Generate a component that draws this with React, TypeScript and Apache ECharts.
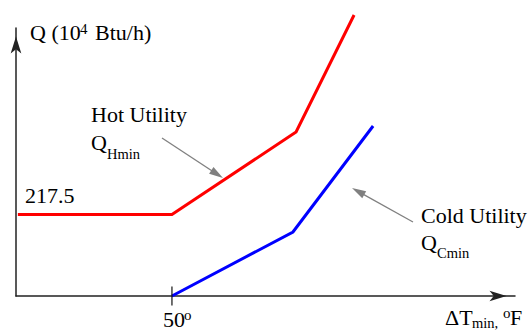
import React, { useEffect, useRef } from "react";
import * as echarts from "echarts";

// Data (x: ΔTmin in °F units, y: Q in 10^4 Btu/h units)
const hotUtility: [number, number][] = [
  [0.6, 217.5],
  [50, 217.5],
  [89.8, 437.6],
  [108.4, 749.7],
];
const coldUtility: [number, number][] = [
  [50, 0],
  [88.8, 170.8],
  [114.5, 453.6],
];
const tickMarks: [number, number][] = [[50, 0]];
const xMax = 160;
const yMax = 715;
const hotValueLabel = "217.5";
const tickLabel = "50";

const FONT = "Times New Roman, Liberation Serif, serif";

function txt(x: number, y: number, text: string, size: number) {
  return {
    type: "text",
    x,
    y,
    silent: true,
    style: {
      text,
      fontSize: size,
      fontFamily: FONT,
      fontStyle: "normal",
      fontWeight: "normal",
      fill: "#000",
      align: "left",
      verticalAlign: "middle",
    },
  };
}

function arrow(x1: number, y1: number, x2: number, y2: number) {
  const len = 14;
  const half = 4;
  const color = "#808080";
  const dx = x2 - x1;
  const dy = y2 - y1;
  const L = Math.hypot(dx, dy);
  const ux = dx / L;
  const uy = dy / L;
  const bx = x2 - len * ux;
  const by = y2 - len * uy;
  const nx = -uy;
  const ny = ux;
  return [
    {
      type: "line",
      silent: true,
      shape: { x1, y1, x2: bx + 2 * ux, y2: by + 2 * uy },
      style: { stroke: color, lineWidth: 1.3 },
    },
    {
      type: "polygon",
      silent: true,
      shape: {
        points: [
          [x2, y2],
          [bx + half * nx, by + half * ny],
          [bx - half * nx, by - half * ny],
        ],
      },
      style: { fill: color },
    },
  ];
}

export default function App() {
  const ref = useRef<HTMLDivElement>(null);
  useEffect(() => {
    if (!ref.current) return;
    const chart = echarts.init(ref.current, undefined, { renderer: "svg" });
    const axisLine = (show: boolean) => ({
      show,
      symbol: ["none", "arrow"],
      symbolSize: [8, 17],
      symbolOffset: [0, -8.5],
      lineStyle: { color: "#222", width: 1.5 },
    });
    chart.setOption({
      animation: false,
      backgroundColor: "#fff",
      textStyle: { fontFamily: FONT },
      grid: { left: 16, top: 28, right: 17, bottom: 35, outerBoundsMode: "none", containLabel: false },
      xAxis: {
        type: "value",
        min: 0,
        max: xMax,
        axisLine: axisLine(true),
        axisTick: { show: false },
        axisLabel: { show: false },
        splitLine: { show: false },
      },
      yAxis: {
        type: "value",
        min: 0,
        max: yMax,
        axisLine: axisLine(true),
        axisTick: { show: false },
        axisLabel: { show: false },
        splitLine: { show: false },
      },
      series: [
        {
          type: "line",
          data: hotUtility,
          clip: false,
          symbol: "none",
          lineStyle: { color: "#ff0000", width: 3, cap: "butt", join: "miter" },
          z: 3,
        },
        {
          type: "line",
          data: coldUtility,
          clip: false,
          symbol: "none",
          lineStyle: { color: "#0000ff", width: 3, cap: "butt", join: "miter" },
          z: 3,
        },
        {
          type: "scatter",
          data: tickMarks,
          symbol: "rect",
          symbolSize: [1.5, 19],
          itemStyle: { color: "#111" },
          silent: true,
          z: 4,
        },
      ],
      graphic: [
        txt(30, 32.5, "Q (10", 22),
        txt(80, 29, "4", 15),
        txt(95, 32.5, "Btu/h)", 22),
        txt(25, 195, hotValueLabel, 22),
        txt(163, 319.5, tickLabel, 22),
        txt(184, 315, "o", 15),
        txt(91, 114, "Hot Utility", 22),
        txt(91, 142.5, "Q", 22),
        txt(107, 153.5, "Hmin", 14.5),
        txt(421, 215.5, "Cold Utility", 22),
        txt(421, 242.5, "Q", 22),
        txt(437, 252.5, "Cmin", 14.5),
        txt(445, 317.5, "ΔT", 22),
        txt(472, 323, "min,", 14.5),
        txt(503, 312.5, "o", 15),
        txt(510, 317.5, "F", 22),
        ...arrow(162, 138, 223, 178),
        ...arrow(413, 222, 352, 188),
      ],
    });
    return () => chart.dispose();
  }, []);
  return (
    <div
      ref={ref}
      style={{ position: "fixed", left: 0, top: 0, width: 532, height: 331, background: "#fff" }}
    />
  );
}
